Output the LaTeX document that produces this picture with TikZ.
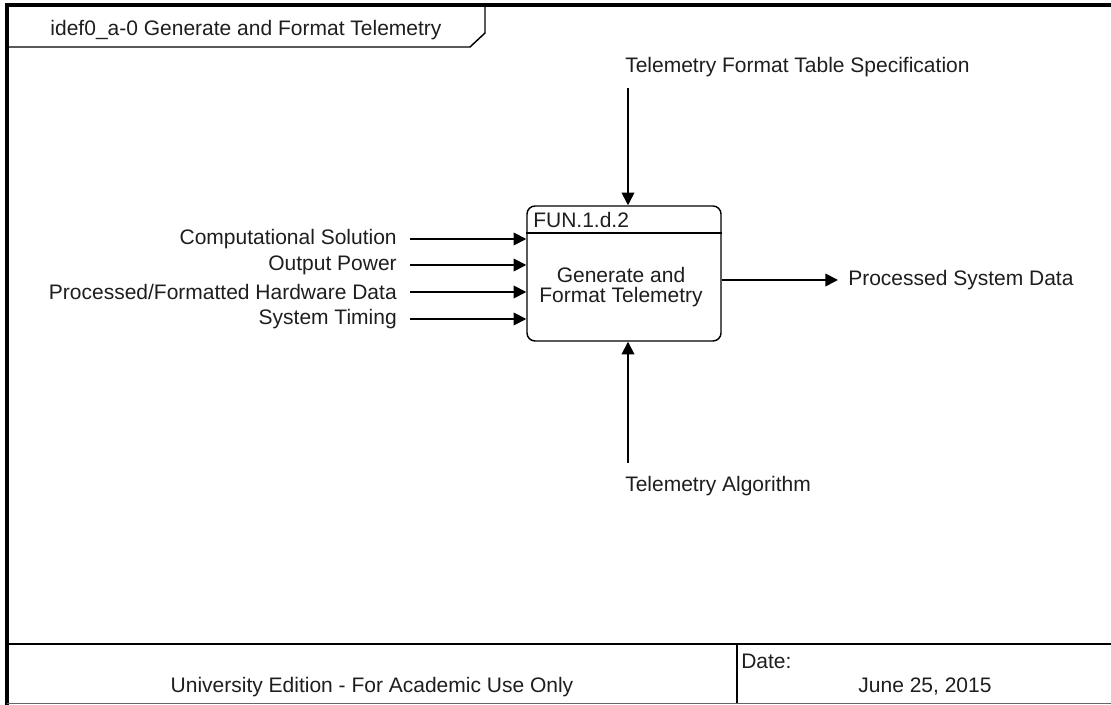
\documentclass[tikz,border=0pt]{standalone}
\usepackage{fontspec}
\setmainfont{Liberation Sans}
\usetikzlibrary{arrows.meta}
\definecolor{txt}{HTML}{1e1e1e}
\tikzset{
  lbl/.style={inner sep=0pt, text=txt, font=\fontsize{15.75}{15}\selectfont},
  conn/.style={line width=1.3pt, -{Triangle[length=9.5pt,width=9.5pt]}},
  frame/.style={line width=2.4pt},
  thin/.style={line width=1.1pt}
}
\begin{document}
\begin{tikzpicture}[x=0.75pt,y=-0.75pt]
\useasboundingbox (0,0) rectangle (1111,705);
% outer frame
\draw[frame] (1111,5) -- (7,5) -- (7,705);
\draw[thin] (485,5) -- (485,33) -- (470,47) -- (7,47);
\node[lbl] (title) at (246,30) {idef0\_a-0 Generate and Format Telemetry};
% footer
\draw[line width=1.6pt] (7,644) -- (1111,644);
\draw[line width=1.6pt] (737,644) -- (737,703);
\draw[line width=1.2pt, black!60] (7,703.5) -- (1111,703.5);
\node[lbl] (uni) at (372,687) {University Edition - For Academic Use Only};
\node[lbl, anchor=west] (datel) at (741,661) {Date:};
\node[lbl] (date) at (925,687) {June 25, 2015};
% activity box
\node[draw, line width=1.1pt, rounded corners=6pt, minimum width=145.5pt, minimum height=101.25pt, inner sep=0pt] (box) at (624,273.5) {};
\draw[line width=1.1pt] (box.west |- 0,233) -- (box.east |- 0,233);
\node[lbl, anchor=west] (fun) at (533,220) {FUN.1.d.2};
\node[lbl, align=center] (fname) at (621,287) {Generate and\\Format Telemetry};
% inputs
\node[lbl, anchor=east] (l1) at (397,239) {Computational Solution};
\node[lbl, anchor=east] (l2) at (397,265) {Output Power};
\node[lbl, anchor=east] (l3) at (397,292) {Processed/Formatted Hardware Data};
\node[lbl, anchor=east] (l4) at (397,319) {System Timing};
\coordinate (i1) at (410,239);
\coordinate (i2) at (410,265);
\coordinate (i3) at (410,292);
\coordinate (i4) at (410,319);
\draw[conn] (i1) -- (i1 -| box.west);
\draw[conn] (i2) -- (i2 -| box.west);
\draw[conn] (i3) -- (i3 -| box.west);
\draw[conn] (i4) -- (i4 -| box.west);
% control
\node[lbl, anchor=west] (ctl) at (625,67) {Telemetry Format Table Specification};
\coordinate (c1) at (628,88);
\draw[conn] (c1) -- (c1 |- box.north);
% mechanism
\node[lbl, anchor=west] (mech) at (625,486) {Telemetry Algorithm};
\coordinate (m1) at (628,463);
\draw[conn] (m1) -- (m1 |- box.south);
% output
\node[lbl, anchor=west] (out) at (848,280) {Processed System Data};
\coordinate (o1) at (838,280);
\draw[conn] (o1 -| box.east) -- (o1);
\end{tikzpicture}
\end{document}
